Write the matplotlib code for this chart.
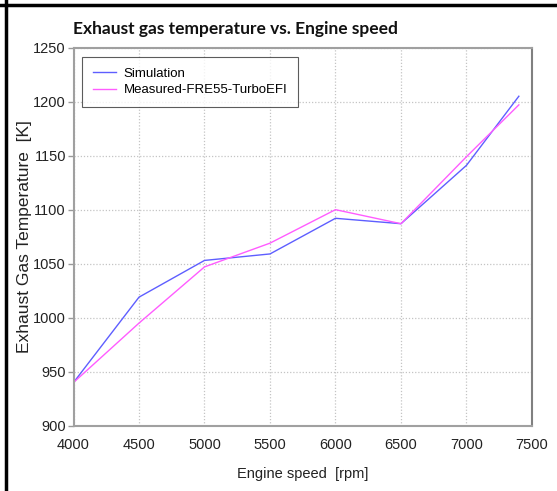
import matplotlib
matplotlib.use("Agg")
import matplotlib.pyplot as plt
from matplotlib.lines import Line2D

# Engine speed sweep [rpm]
speed = [4000, 4500, 5000, 5500, 6000, 6500, 7000, 7400]
# Exhaust gas temperature [K]
sim_temp = [940, 1019, 1053, 1059, 1092, 1087, 1141, 1205]
meas_temp = [940, 995, 1047, 1069, 1100, 1087, 1149, 1197]

x_ticks = [4000, 4500, 5000, 5500, 6000, 6500, 7000, 7500]
y_ticks = [900, 950, 1000, 1050, 1100, 1150, 1200, 1250]

plt.rcParams['font.family'] = ['Liberation Sans', 'DejaVu Sans']

fig = plt.figure(figsize=(5.57, 4.91), dpi=100)
ax = fig.add_axes([0.132, 0.133, 0.823, 0.770])

ax.plot(speed, sim_temp, color='#5e5eff', lw=1.0, label='Simulation')
ax.plot(speed, meas_temp, color='#ff5cff', lw=1.0, label='Measured-FRE55-TurboEFI')

ax.set_xlim(4000, 7500)
ax.set_ylim(900, 1250)
ax.set_xticks(x_ticks)
ax.set_yticks(y_ticks)
ax.tick_params(axis='x', length=0, pad=9, labelsize=10.5, colors='#222222')
ax.tick_params(axis='y', length=4, width=1, color='#999999', pad=1.5,
               labelsize=10.5, labelcolor='#222222')
ax.grid(True, linestyle=(0, (1, 1.5)), color='#c4c4c4', lw=0.9)
for s in ax.spines.values():
    s.set_color('#a0a0a0')
    s.set_linewidth(1.5)
ax.spines['right'].set_color('#808080')

ax.set_xlabel('Engine speed  [rpm]', fontsize=10.5, labelpad=11, color='#222222')
ax.set_ylabel('Exhaust Gas Temperature  [K]', fontsize=12.5, labelpad=1,
              color='#222222')

leg = ax.legend(loc='upper left', bbox_to_anchor=(0.0185, 0.975), fontsize=9.5,
                frameon=True, fancybox=False, edgecolor='#333333',
                handlelength=1.75, handletextpad=0.6, borderpad=0.8,
                labelspacing=0.32, borderaxespad=0)
leg.get_frame().set_linewidth(0.8)

fig.text(0.131, 0.931, 'Exhaust gas temperature vs. Engine speed',
         fontsize=12.5, fontweight='bold', family=['Lato', 'DejaVu Sans'],
         ha='left', va='baseline', color='#111111')

# Outer black frame along the top and left edges
fig.add_artist(Line2D([0, 1], [1 - 4.5 / 491] * 2, transform=fig.transFigure,
                      color='black', lw=2.5))
fig.add_artist(Line2D([5.5 / 557] * 2, [0, 1], transform=fig.transFigure,
                      color='black', lw=2.5))

fig.savefig('out.png', dpi=100)
